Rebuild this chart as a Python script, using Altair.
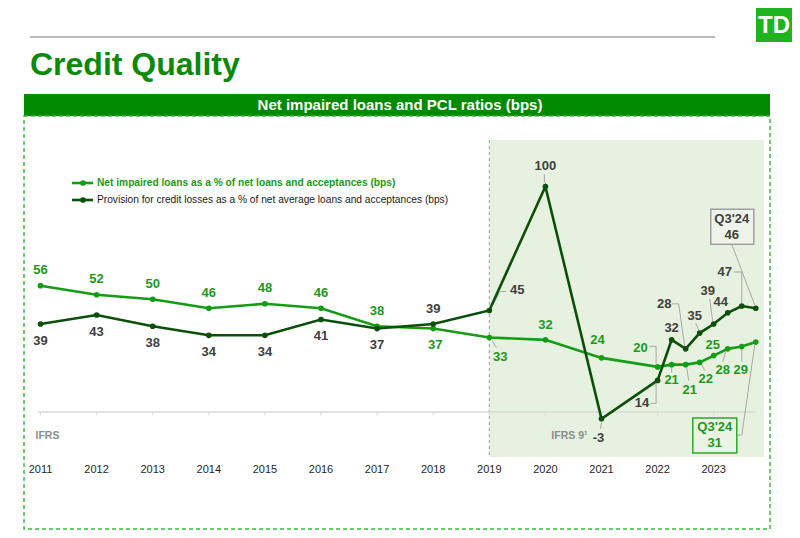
import altair as alt
import pandas as pd

# ---------------- data ----------------
periods = ["2011", "2012", "2013", "2014", "2015", "2016", "2017", "2018", "2019", "2020",
           "2021", "2022", "Q1'23", "Q2'23", "Q3'23", "Q4'23", "Q1'24", "Q2'24", "Q3'24"]
period_x = [2011, 2012, 2013, 2014, 2015, 2016, 2017, 2018, 2019, 2020,
            2021, 2022, 2022.25, 2022.5, 2022.75, 2023, 2023.25, 2023.5, 2023.75]
impaired = [56, 52, 50, 46, 48, 46, 38, 37, 33, 32, 24, 20, 21, 21, 22, 25, 28, 29, 31]
pcl = [39, 43, 38, 34, 34, 41, 37, 39, 45, 100, -3, 14, 32, 28, 35, 39, 44, 47, 46]
axis_years = [2011, 2012, 2013, 2014, 2015, 2016, 2017, 2018, 2019, 2020, 2021, 2022, 2023]
axis_labels = [str(y) for y in axis_years]
series_names = ["Net impaired loans as a % of net loans and acceptances (bps)",
                "Provision for credit losses as a % of net average loans and acceptances (bps)"]
latest_label = "Q3'24"

# ---------------- styling ----------------
W, H = 784, 522
KX = 56.1          # px per year
KY = 2.2554        # px per bps
X0 = 2011 - 32.5 / KX
X1 = X0 + W / KX
Y1 = 404 / KY
Y0 = -(H - 404) / KY

FONT = "Liberation Sans, Arial, sans-serif"
NARROW = "Liberation Sans Narrow, Arial Narrow, Liberation Sans, sans-serif"
GREEN = "#169B16"
DARK = "#0B4F0B"
GREEN_TXT = "#1C9A1C"
DARK_TXT = "#404040"
BAR = "#008A00"
LEADER = "#A8A8A8"

# label offsets in px (dx, dy) relative to each point
imp_off = [(0, -15.5)] * 7 + [(2, 16.5), (11, 19), (0, -15), (-4, -18), (-17, -19), (0, 15.5),
                              (4, 25), (6, 16.5), (-1, -10.5), (-5, 21.5), (-1, 23.5), None]
pcl_off = [(0, 16.5)] * 7 + [(0, -15), (28, -21), (0, -20), (-3, 19.5), (-15.5, 23), (0, -12),
                             (-21.5, -45), (-5, -17), (-6, -33), (-7, -10.5), (-17, -34), None]
# leader polylines in px relative to the point
imp_lead = {8: [(3, 3), (7, 10)], 11: [(-8, -20.5), (-1.5, -20.5), (-1.5, -3)], 12: [(0, 3), (0, 8)],
            13: [(1, 3), (3, 16)], 14: [(2, 2), (5, 8)], 16: [(-2, 3), (-5, 13)], 17: [(0, 3), (0, 15)],
            18: [(-19, 93), (-14, 93), (-1, 3)]}
pcl_lead = {8: [(2, -3), (11, -19), (17, -19)], 9: [(-1, -12), (-1, -4)], 10: [(0, 4), (-1, 10)],
            11: [(-7, 23), (-1.5, 23), (-1.5, 3)], 13: [(-14, -45), (-7, -45), (-1, -3)],
            14: [(-4, -10), (-1, -3)], 15: [(-4, -25), (-1, -3)], 17: [(-8, -34), (0, -34), (0, -3)],
            18: [(-24, -64), (-1, -3)]}
# boxes for the latest quarter: (x1, x2, y1, y2) px and text centres
pcl_box = ((-45, -2, -99, -64), (-24, -89), (-24, -73))
imp_box = ((-63, -19, 76, 111), (-41, 85), (-41, 101))

xs = alt.Scale(domain=[X0, X1], nice=False, zero=False)
ys = alt.Scale(domain=[Y0, Y1], nice=False, zero=False)


def X(f):
    return alt.X(f, type="quantitative", scale=xs, axis=None)


def Y(f):
    return alt.Y(f, type="quantitative", scale=ys, axis=None)


# ---------------- tables ----------------
line_rows = []
for s, vals in (("imp", impaired), ("pcl", pcl)):
    for i, (x, v) in enumerate(zip(period_x, vals)):
        line_rows.append(dict(series=s, x=x, v=v, i=i))
lines_df = pd.DataFrame(line_rows)

lab_rows, lead_rows, box_rows, boxtxt_rows = [], [], [], []
for s, vals, offs, leads, box in (("imp", impaired, imp_off, imp_lead, imp_box),
                                  ("pcl", pcl, pcl_off, pcl_lead, pcl_box)):
    for i, (x, v) in enumerate(zip(period_x, vals)):
        o = offs[i]
        if o is not None:
            lab_rows.append(dict(series=s, text=str(v), lx=x + o[0] / KX, ly=v - o[1] / KY))
        if i in leads:
            for k, (dx, dy) in enumerate(leads[i]):
                lead_rows.append(dict(id=f"{s}{i}", k=k, lx=x + dx / KX, ly=v - dy / KY))
    x, v = period_x[-1], vals[-1]
    (bx1, bx2, by1, by2), t1, t2 = box
    box_rows.append(dict(series=s, x1=x + bx1 / KX, x2=x + bx2 / KX, y1=v - by1 / KY, y2=v - by2 / KY))
    boxtxt_rows.append(dict(series=s, text=latest_label, lx=x + t1[0] / KX, ly=v - t1[1] / KY))
    boxtxt_rows.append(dict(series=s, text=str(v), lx=x + t2[0] / KX, ly=v - t2[1] / KY))

labs = pd.DataFrame(lab_rows)
leads_df = pd.DataFrame(lead_rows)
boxes = pd.DataFrame(box_rows)
boxtxt = pd.DataFrame(boxtxt_rows)
axis_df = pd.DataFrame({"year": axis_years, "label": axis_labels})
one = pd.DataFrame({"a": [0]})

# ---------------- layers ----------------
title = alt.Chart(one).mark_text(text="Credit Quality", font=FONT, fontSize=32, fontWeight="bold",
                                 color="#0A8A0A", align="left", baseline="alphabetic").encode(
    x=alt.value(22), y=alt.value(67))
topline = alt.Chart(one).mark_rule(color="#A6A6A6", strokeWidth=1.5).encode(
    x=alt.value(22), x2=alt.value(707), y=alt.value(29))
logo = alt.Chart(one).mark_rect(color="#1DB41D").encode(
    x=alt.value(748), x2=alt.value(784), y=alt.value(0), y2=alt.value(34))
logo_txt = alt.Chart(one).mark_text(text="TD", font=NARROW, fontSize=24, fontWeight="bold",
                                    color="white").encode(x=alt.value(766), y=alt.value(18))
header = alt.Chart(one).mark_rect(color=BAR).encode(
    x=alt.value(16), x2=alt.value(762), y=alt.value(86), y2=alt.value(108))
header_txt = alt.Chart(one).mark_text(text="Net impaired loans and PCL ratios (bps)", font=FONT,
                                      fontSize=15, fontWeight="bold", color="white").encode(
    x=alt.value(392), y=alt.value(97))
border = alt.Chart(one).mark_rect(fill=None, stroke="#3DB83D", strokeWidth=1.5,
                                  strokeDash=[4, 3]).encode(
    x=alt.value(16), x2=alt.value(762), y=alt.value(108), y2=alt.value(521))

shade = alt.Chart(pd.DataFrame({"x": [2019], "x2": [period_x[-1] + 8 / KX]})).mark_rect(
    color="#E7F1DF").encode(x=X("x"), x2="x2", y=alt.value(132), y2=alt.value(449))
vline = alt.Chart(pd.DataFrame({"x": [2019]})).mark_rule(color="#9A9A9A", strokeDash=[3, 3],
                                                          strokeWidth=1).encode(
    x=X("x"), y=alt.value(132), y2=alt.value(449))

axis_line = alt.Chart(pd.DataFrame({"x": [axis_years[0] - 0.05], "x2": [period_x[-1]], "y": [0]})).mark_rule(
    color="#D9D9D9", strokeWidth=1.5).encode(x=X("x"), x2="x2", y=Y("y"))
ticks = alt.Chart(axis_df).transform_calculate(y0="0").mark_rule(color="#D9D9D9", strokeWidth=1).encode(
    x=X("year"), y=Y("y0"), y2=alt.value(407.5))
tick_labels = alt.Chart(axis_df).mark_text(font=NARROW, fontSize=11, color="#262626").encode(
    x=X("year"), y=alt.value(462), text="label:N")

ifrs = alt.Chart(pd.DataFrame({"x": [2011]})).mark_text(
    text="IFRS", font=FONT, fontSize=10.5, fontWeight="bold", color="#8C8C8C", align="left", dx=-5).encode(
    x=X("x"), y=alt.value(428))
ifrs9 = alt.Chart(pd.DataFrame({"x": [2021]})).mark_text(
    text="IFRS 9¹", font=FONT, fontSize=10.5, fontWeight="bold", color="#8C8C8C", align="right", dx=-14).encode(
    x=X("x"), y=alt.value(428))

lead_layer = alt.Chart(leads_df).mark_line(color=LEADER, strokeWidth=1).encode(
    x=X("lx"), y=Y("ly"), detail="id:N", order="k:Q")

line_imp = alt.Chart(lines_df).transform_filter("datum.series == 'imp'").mark_line(
    color=GREEN, strokeWidth=2.6).encode(x=X("x"), y=Y("v"), order="i:Q")
line_pcl = alt.Chart(lines_df).transform_filter("datum.series == 'pcl'").mark_line(
    color=DARK, strokeWidth=2.6).encode(x=X("x"), y=Y("v"), order="i:Q")
pts_imp = alt.Chart(lines_df).transform_filter("datum.series == 'imp'").mark_circle(
    color=GREEN, size=32, opacity=1).encode(x=X("x"), y=Y("v"))
pts_pcl = alt.Chart(lines_df).transform_filter("datum.series == 'pcl'").mark_circle(
    color=DARK, size=32, opacity=1).encode(x=X("x"), y=Y("v"))

lab_imp = alt.Chart(labs).transform_filter("datum.series == 'imp'").mark_text(
    font=FONT, fontSize=13, fontWeight="bold", color=GREEN_TXT).encode(x=X("lx"), y=Y("ly"), text="text:N")
lab_pcl = alt.Chart(labs).transform_filter("datum.series == 'pcl'").mark_text(
    font=FONT, fontSize=13, fontWeight="bold", color=DARK_TXT).encode(x=X("lx"), y=Y("ly"), text="text:N")

box_pcl = alt.Chart(boxes).transform_filter("datum.series == 'pcl'").mark_rect(
    fill="#EEF4EA", stroke="#A0A0A0", strokeWidth=1.5).encode(x=X("x1"), x2="x2", y=Y("y1"), y2="y2")
box_imp = alt.Chart(boxes).transform_filter("datum.series == 'imp'").mark_rect(
    fill="#EAF3E4", stroke="#2EA82E", strokeWidth=1.5).encode(x=X("x1"), x2="x2", y=Y("y1"), y2="y2")
boxt_pcl = alt.Chart(boxtxt).transform_filter("datum.series == 'pcl'").mark_text(
    font=FONT, fontSize=13, fontWeight="bold", color=DARK_TXT).encode(x=X("lx"), y=Y("ly"), text="text:N")
boxt_imp = alt.Chart(boxtxt).transform_filter("datum.series == 'imp'").mark_text(
    font=FONT, fontSize=13, fontWeight="bold", color=GREEN_TXT).encode(x=X("lx"), y=Y("ly"), text="text:N")

# legend (manual)
leg_line1 = alt.Chart(one).mark_rule(color=GREEN, strokeWidth=2.6).encode(
    x=alt.value(64), x2=alt.value(85), y=alt.value(175))
leg_dot1 = alt.Chart(one).mark_circle(color=GREEN, size=32, opacity=1).encode(x=alt.value(75), y=alt.value(175))
leg_txt1 = alt.Chart(one).mark_text(text=series_names[0], font=FONT, fontSize=10.2, fontWeight="bold",
                                    color=GREEN_TXT, align="left").encode(x=alt.value(89), y=alt.value(175))
leg_line2 = alt.Chart(one).mark_rule(color=DARK, strokeWidth=2.6).encode(
    x=alt.value(64), x2=alt.value(85), y=alt.value(192))
leg_dot2 = alt.Chart(one).mark_circle(color=DARK, size=32, opacity=1).encode(x=alt.value(75), y=alt.value(192))
leg_txt2 = alt.Chart(one).mark_text(text=series_names[1], font=FONT, fontSize=10.2,
                                    color="#1A1A1A", align="left").encode(x=alt.value(89), y=alt.value(192))

chart = alt.layer(
    shade, vline, axis_line, ticks, tick_labels, ifrs, ifrs9,
    title, topline, logo, logo_txt, header, border, header_txt,
    lead_layer, line_imp, line_pcl, pts_imp, pts_pcl, lab_imp, lab_pcl,
    box_pcl, box_imp, boxt_pcl, boxt_imp,
    leg_line1, leg_dot1, leg_txt1, leg_line2, leg_dot2, leg_txt2,
).properties(
    width=W, height=H, padding=0, autosize=alt.AutoSizeParams(type="none"), background="white"
).configure_view(stroke=None)

chart.save("out.html", embed_options={"renderer": "svg", "actions": False})
